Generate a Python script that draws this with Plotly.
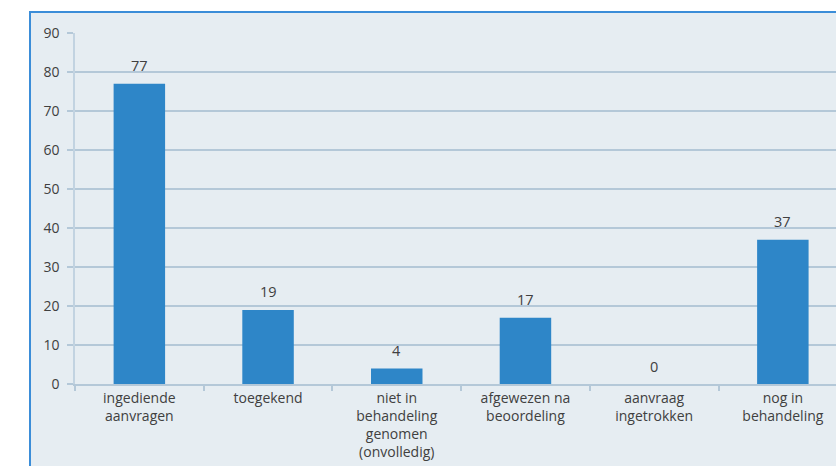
import plotly.graph_objects as go

categories = [
    "ingediende<br>aanvragen",
    "toegekend",
    "niet in<br>behandeling<br>genomen<br>(onvolledig)",
    "afgewezen na<br>beoordeling",
    "aanvraag<br>ingetrokken",
    "nog in<br>behandeling",
]
values = [77, 19, 4, 17, 0, 37]
y_ticks = [0, 10, 20, 30, 40, 50, 60, 70, 80, 90]

W, H = 836, 466
L, R, T, B = 75, 0, 33, 82
BG = "#E6EDF2"
GRID = "#B4C8D8"
BAR = "#2E86C8"
TXT = "#404040"
FONT = "Open Sans"

pw = W - L - R
ph = H - T - B
cat_px = 128.7

fig = go.Figure()
fig.add_trace(go.Bar(
    x=list(range(len(categories))), y=values,
    marker=dict(color=BAR, line=dict(width=0)),
    width=0.4,
))

for i, v in enumerate(values):
    fig.add_annotation(x=i, y=v, text=str(v), showarrow=False,
                       yanchor="middle", yshift=18,
                       font=dict(family=FONT, size=14.5, color=TXT))

fig.add_shape(type="rect", xref="paper", yref="paper", layer="below",
              x0=(30 - L) / pw, x1=1.2, y0=-0.5, y1=(H - B - 12) / ph,
              fillcolor=BG, line=dict(color="#3B8DD8", width=2))

fig.update_layout(
    width=W, height=H,
    margin=dict(l=L, r=R, t=T, b=B, pad=0),
    paper_bgcolor="white", plot_bgcolor=BG,
    showlegend=False,
    font=dict(family=FONT, size=14, color=TXT),
)
fig.update_xaxes(
    type="linear",
    range=[-0.5, -0.5 + pw / cat_px],
    tickmode="array",
    tickvals=list(range(len(categories))),
    ticktext=categories,
    showgrid=False, zeroline=False,
    showline=True, linecolor=GRID, linewidth=2,
    ticks="", tickfont=dict(family=FONT, size=14, color=TXT),
)
# boundary tick marks on x axis
fig.update_layout(xaxis2=dict(
    overlaying="x", matches="x", tickmode="array",
    tickvals=[i - 0.5 for i in range(len(categories) + 1)],
    ticktext=["" for _ in range(len(categories) + 1)],
    ticks="outside", ticklen=6, tickwidth=1.5, tickcolor=GRID,
    showgrid=False, zeroline=False, showline=False, anchor="y",
    side="bottom",
))
fig.add_trace(go.Scatter(x=[0], y=[0], xaxis="x2", mode="markers",
                         marker=dict(opacity=0), hoverinfo="skip"))
fig.update_yaxes(
    range=[0, 90], tickmode="array", tickvals=y_ticks,
    showgrid=True, gridcolor=GRID, gridwidth=1.5,
    zeroline=False,
    showline=True, linecolor="#C2D3E1", linewidth=1.5,
    ticks="outside", ticklen=6, tickwidth=1.5, tickcolor=GRID,
    ticklabelstandoff=5,
    tickfont=dict(family=FONT, size=14, color=TXT),
)

fig.write_html("out.html", config={"displayModeBar": False},
               post_script="document.body.style.margin='0';")
